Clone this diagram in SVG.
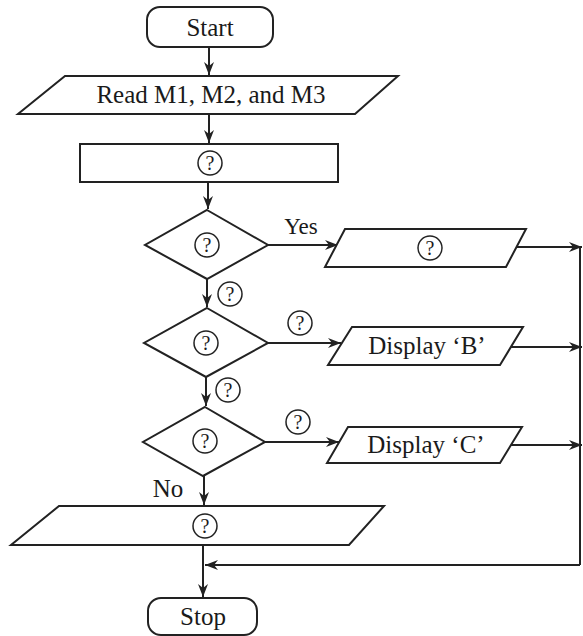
<svg xmlns="http://www.w3.org/2000/svg" width="583" height="636" viewBox="0 0 583 636">
<defs>
<style>
.s{fill:#fff;stroke:#222;stroke-width:2}
.c{fill:none;stroke:#222;stroke-width:2}
.t{font-family:"Liberation Serif","Times New Roman",serif;font-size:25px;fill:#1a1a1a;text-anchor:middle}
.q{font-family:"Liberation Serif","Times New Roman",serif;font-size:20px;fill:#1a1a1a;text-anchor:middle}
.qc{fill:#fff;stroke:#222;stroke-width:1.5}
</style>
<marker id="ah" markerWidth="14" markerHeight="12" refX="13" refY="5" orient="auto" markerUnits="userSpaceOnUse">
<path d="M0,0 L13,5 L0,10 L4,5 Z" fill="#222"/>
</marker>
</defs>
<rect width="583" height="636" fill="#fff"/>

<g id="connectors">
<line class="c" x1="209" y1="47" x2="209" y2="75" marker-end="url(#ah)"/>
<line class="c" x1="209" y1="114" x2="209" y2="143" marker-end="url(#ah)"/>
<line class="c" x1="208" y1="182" x2="208" y2="209" marker-end="url(#ah)"/>
<line class="c" x1="268" y1="245" x2="338" y2="245" marker-end="url(#ah)"/>
<line class="c" x1="516" y1="247" x2="582" y2="247" marker-end="url(#ah)"/>
<line class="c" x1="207" y1="279" x2="207" y2="307" marker-end="url(#ah)"/>
<line class="c" x1="268" y1="343" x2="341" y2="343" marker-end="url(#ah)"/>
<line class="c" x1="511" y1="347" x2="582" y2="347" marker-end="url(#ah)"/>
<line class="c" x1="206" y1="377" x2="206" y2="406" marker-end="url(#ah)"/>
<line class="c" x1="265" y1="442" x2="339" y2="442" marker-end="url(#ah)"/>
<line class="c" x1="510" y1="445" x2="582" y2="445" marker-end="url(#ah)"/>
<line class="c" x1="580" y1="247" x2="580" y2="565"/>
<line class="c" x1="580" y1="565" x2="205" y2="565" marker-end="url(#ah)"/>
<line class="c" x1="204" y1="476" x2="204" y2="505" marker-end="url(#ah)"/>
<line class="c" x1="203" y1="545" x2="203" y2="597" marker-end="url(#ah)"/>
<text class="t" x="301" y="234" style="font-size:23px">Yes</text>
<text class="t" x="168" y="497">No</text>
<g id="lbl1"><circle class="qc" cx="230" cy="294" r="12"/><text class="q" x="230" y="301">?</text></g>
<g id="lbl2"><circle class="qc" cx="300" cy="323" r="12"/><text class="q" x="300" y="330">?</text></g>
<g id="lbl3"><circle class="qc" cx="228" cy="390" r="12"/><text class="q" x="228" y="397">?</text></g>
<g id="lbl4"><circle class="qc" cx="298" cy="422" r="12"/><text class="q" x="298" y="429">?</text></g>
</g>

<g id="start">
<rect class="s" x="147" y="7" width="126" height="40" rx="13"/>
<text class="t" x="210" y="36">Start</text>
</g>
<g id="read">
<polygon class="s" points="65,76 398,76 355,114 18,114"/>
<text class="t" x="211" y="103">Read M1, M2, and M3</text>
</g>
<g id="process">
<rect class="s" x="80" y="144" width="258" height="38"/>
<circle class="qc" cx="210" cy="163" r="12"/><text class="q" x="210" y="170">?</text>
</g>
<g id="decision1">
<polygon class="s" points="207,210 268,245 207,279 145,245"/>
<circle class="qc" cx="207" cy="245" r="12"/><text class="q" x="207" y="252">?</text>
</g>
<g id="output1">
<polygon class="s" points="345,229 526,229 506,267 325,267"/>
<circle class="qc" cx="430" cy="248" r="12"/><text class="q" x="430" y="255">?</text>
</g>
<g id="decision2">
<polygon class="s" points="207,308 268,343 206,377 144,343"/>
<circle class="qc" cx="206" cy="343" r="12"/><text class="q" x="206" y="350">?</text>
</g>
<g id="outputB">
<polygon class="s" points="352,327 523,327 500,365 328,365"/>
<text class="t" x="427" y="354">Display ‘B’</text>
</g>
<g id="decision3">
<polygon class="s" points="205,407 265,442 203,476 143,442"/>
<circle class="qc" cx="205" cy="441" r="12"/><text class="q" x="205" y="448">?</text>
</g>
<g id="outputC">
<polygon class="s" points="348,427 522,427 500,463 327,463"/>
<text class="t" x="426" y="453">Display ‘C’</text>
</g>
<g id="output4">
<polygon class="s" points="59,506 384,506 349,545 11,545"/>
<circle class="qc" cx="205" cy="526" r="12"/><text class="q" x="205" y="533">?</text>
</g>
<g id="stop">
<rect class="s" x="148" y="598" width="109" height="37" rx="13"/>
<text class="t" x="203" y="625">Stop</text>
</g>
</svg>
